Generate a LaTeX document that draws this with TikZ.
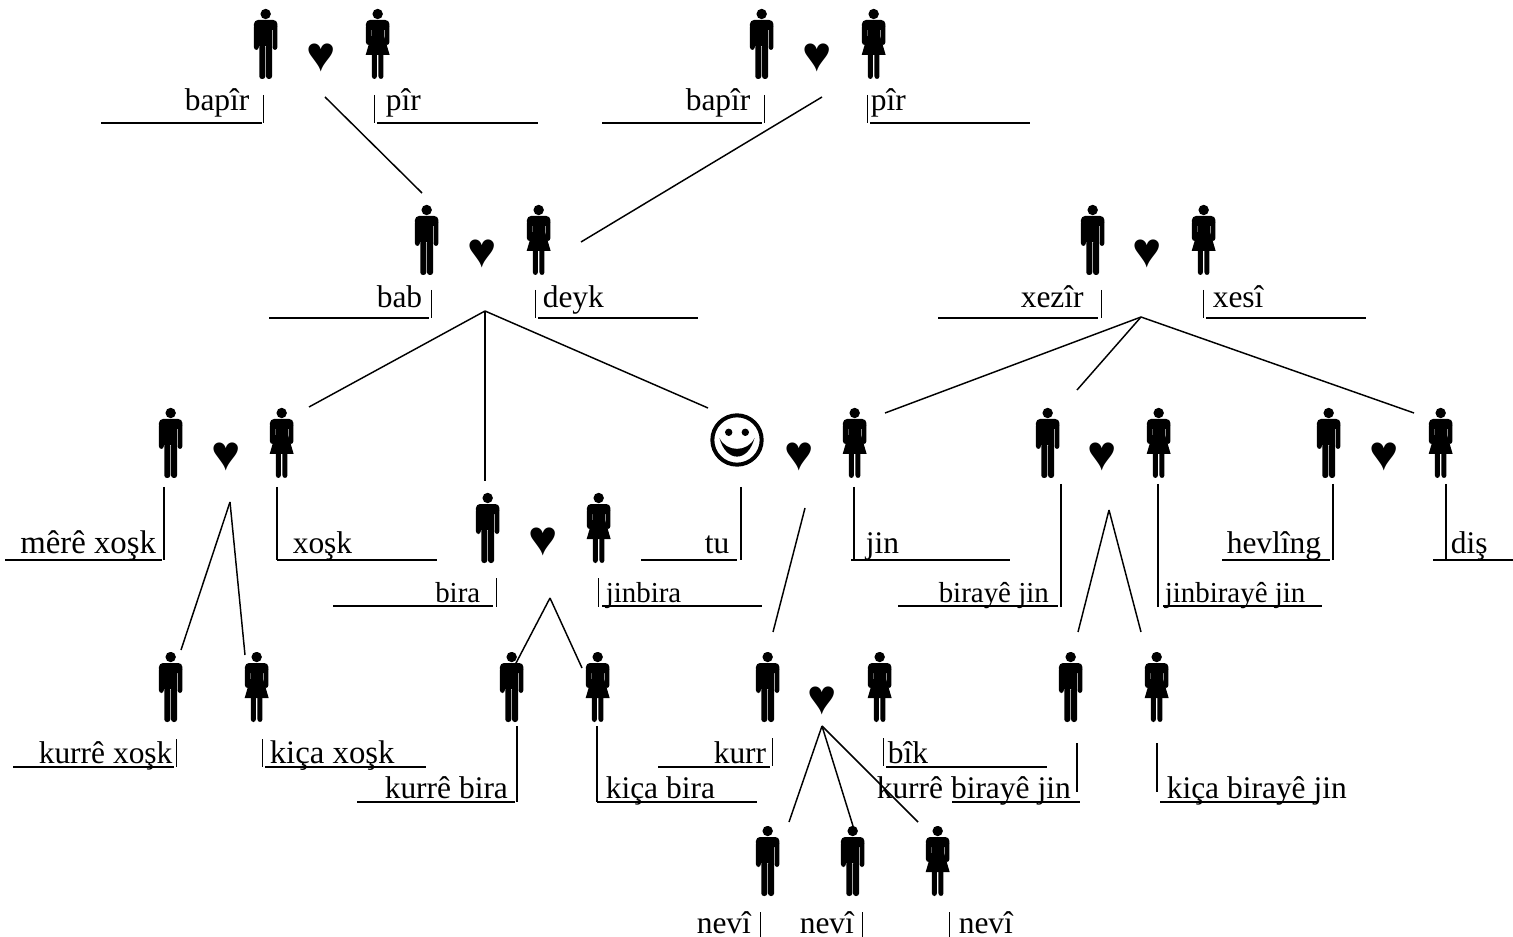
\documentclass[tikz,border=0pt]{standalone}
\usepackage{fontspec}
\setmainfont{Liberation Serif}
\newfontfamily\heartfont{Liberation Serif}
\tikzset{
  figure/.style={inner sep=0pt,xshift=0.5pt,minimum width=18pt,minimum height=52.5pt},
  man/.style={figure,path picture={
    \begin{scope}[shift={(path picture bounding box.center)}]
    \fill (0,-30) circle (5.2);
    \fill[rounded corners=3] (-11.7,-24) rectangle (11.7,-14);
    \fill[rounded corners=2] (-11.7,-20) rectangle (-6.9,6);
    \fill[rounded corners=2] (6.9,-20) rectangle (11.7,6);
    \fill (-6.4,-22) rectangle (6.4,2);
    \fill[rounded corners=2] (-6.4,0) rectangle (-0.4,35);
    \fill[rounded corners=2] (0.4,0) rectangle (6.4,35);
    \end{scope}}},
  woman/.style={figure,path picture={
    \begin{scope}[shift={(path picture bounding box.center)}]
    \fill (0,-30) circle (5.2);
    \fill[rounded corners=3] (-11.7,-24) rectangle (11.7,-14);
    \fill[rounded corners=2] (-11.7,-20) rectangle (-6.9,1);
    \fill[rounded corners=2] (6.9,-20) rectangle (11.7,1);
    \fill (-6.4,-22) -- (6.4,-22) -- (6.4,-8) -- (12,11) -- (-12,11) -- (-6.4,-8) -- cycle;
    \fill[rounded corners=2] (-5.8,5) rectangle (-0.8,35);
    \fill[rounded corners=2] (0.8,5) rectangle (5.8,35);
    \end{scope}}},
  smile/.style={circle,draw,line width=3pt,inner sep=0pt,minimum size=37pt,path picture={
    \begin{scope}[shift={(path picture bounding box.center)}]
    \fill (-8.3,-7.7) circle (3.7);
    \fill (8.3,-7.7) circle (3.7);
    \fill (-17.5,-2) .. controls (-11,12.5) and (11,12.5) .. (17.5,-2)
      .. controls (11,22.8) and (-11,22.8) .. (-17.5,-2) -- cycle;
    \end{scope}}},
  heart/.style={inner sep=0pt,yshift=-2pt,font=\heartfont\fontsize{37}{37}\selectfont},
  big/.style={inner sep=0pt,anchor=base west,font=\fontsize{23.6}{26}\selectfont},
  wide/.style={inner sep=0pt,anchor=base west,font=\fontsize{24.6}{26}\selectfont},
  small/.style={inner sep=0pt,anchor=base west,font=\fontsize{21.7}{24}\selectfont},
  link/.style={line width=1.1pt},
  rule/.style={line width=0.85pt},
  pipe/.style={line width=0.7pt}
}
\begin{document}
\begin{tikzpicture}[x=0.75pt,y=-0.75pt]
\useasboundingbox (0,0) rectangle (1513,937);

%Figures
\node[man] (bapirL) at (265,44) {};
\node[woman] (pirL) at (377,44) {};
\node[heart] (heartA) at (321,55) {♥};
\node[man] (bapirR) at (761,44) {};
\node[woman] (pirR) at (873,44) {};
\node[heart] (heartB) at (817,55) {♥};
\node[man] (bab) at (426,240) {};
\node[woman] (deyk) at (538,240) {};
\node[heart] (heartC) at (482,251) {♥};
\node[man] (xezir) at (1092,240) {};
\node[woman] (xesi) at (1203,240) {};
\node[heart] (heartD) at (1147,251) {♥};
\node[man] (merexosk) at (170,443) {};
\node[woman] (xosk) at (281,443) {};
\node[heart] (heartE) at (226,454) {♥};
\node[smile] (tu) at (737,440) {};
\node[woman] (jin) at (854,443) {};
\node[heart] (heartF) at (799,454) {♥};
\node[man] (birayejin) at (1047,443) {};
\node[woman] (jinbirayejin) at (1158,443) {};
\node[heart] (heartG) at (1102,454) {♥};
\node[man] (hevling) at (1328,443) {};
\node[woman] (dis) at (1440,443) {};
\node[heart] (heartH) at (1384,454) {♥};
\node[man] (bira) at (487,528) {};
\node[woman] (jinbira) at (598,528) {};
\node[heart] (heartI) at (543,539) {♥};
\node[man] (kurrexosk) at (170,687) {};
\node[woman] (kicaxosk) at (256,687) {};
\node[man] (kurrebira) at (511,687) {};
\node[woman] (kicabira) at (597,687) {};
\node[man] (kurr) at (767,687) {};
\node[woman] (bik) at (879,687) {};
\node[heart] (heartJ) at (822,698) {♥};
\node[man] (kurrebirayejin) at (1070,687) {};
\node[woman] (kicabirayejin) at (1156,687) {};
\node[man] (neviA) at (767,861) {};
\node[man] (neviB) at (852,861) {};
\node[woman] (neviC) at (937,861) {};

%Labels
\node[big] (tbapirL) at (184.5,111) {bapîr};
\node[big] (tpirL) at (385.5,111) {pîr};
\node[big] (tbapirR) at (685.5,111) {bapîr};
\node[big] (tpirR) at (870.5,111) {pîr};
\node[big] (tbab) at (376.5,308) {bab};
\node[big] (tdeyk) at (542.5,308) {deyk};
\node[big] (txezir) at (1020.5,308) {xezîr};
\node[big] (txesi) at (1212.5,308) {xesî};
\node[wide] (tmerexosk) at (20,553) {mêrê xoşk};
\node[big] (txosk) at (292.5,553) {xoşk};
\node[big] (ttu) at (704.5,553) {tu};
\node[big] (tjin) at (865.5,553) {jin};
\node[big] (thevling) at (1226.5,553) {hevlîng};
\node[big] (tdis) at (1450.5,553) {diş};
\node[small] (tbira) at (435,602) {bira};
\node[small] (tjinbira) at (605.5,602) {jinbira};
\node[small] (tbirayejin) at (938.5,602) {birayê jin};
\node[small] (tjinbirayejin) at (1164.5,602) {jinbirayê jin};
\node[big] (tkurrexosk) at (38.5,763) {kurrê xoşk};
\node[wide] (tkicaxosk) at (269.5,763) {kiça xoşk};
\node[big] (tkurrebira) at (384.5,798) {kurrê bira};
\node[big] (tkicabira) at (605.5,798) {kiça bira};
\node[big] (tkurr) at (713.5,763) {kurr};
\node[big] (tbik) at (887.5,763) {bîk};
\node[big] (tkurrebirayejin) at (876.5,798) {kurrê birayê jin};
\node[big] (tkicabirayejin) at (1166.5,798) {kiça birayê jin};
\node[big] (tneviA) at (696.5,933) {nevî};
\node[big] (tneviB) at (799.5,933) {nevî};
\node[big] (tneviC) at (958.5,933) {nevî};

%Name rules
\draw[rule] (101,123) -- (262,123);
\draw[pipe] (263,95) -- (263,123);
\draw[rule] (377,123) -- (538,123);
\draw[pipe] (374,95) -- (374,123);
\draw[rule] (602,123) -- (762,123);
\draw[pipe] (764,95) -- (764,123);
\draw[rule] (870,123) -- (1030,123);
\draw[pipe] (867,95) -- (867,123);
\draw[rule] (269,318) -- (429,318);
\draw[pipe] (431,290) -- (431,318);
\draw[rule] (538,318) -- (698,318);
\draw[pipe] (535,290) -- (535,318);
\draw[rule] (938,318) -- (1098,318);
\draw[pipe] (1101,290) -- (1101,318);
\draw[rule] (1206,318) -- (1366,318);
\draw[pipe] (1203,290) -- (1203,318);
\draw[rule] (5,560) -- (162,560);
\draw[link] (164,487) -- (164,560);
\draw[rule] (277,560) -- (437,560);
\draw[link] (277,487) -- (277,560);
\draw[rule] (641,560) -- (737,560);
\draw[link] (741,487) -- (741,560);
\draw[rule] (851,560) -- (1010,560);
\draw[link] (854,487) -- (854,560);
\draw[rule] (1222,560) -- (1330,560);
\draw[link] (1333,484) -- (1333,560);
\draw[rule] (1433,560) -- (1513,560);
\draw[link] (1446,484) -- (1446,560);
\draw[rule] (898,606) -- (1058,606);
\draw[link] (1061,484) -- (1061,607);
\draw[rule] (1163,606) -- (1322,606);
\draw[link] (1158,484) -- (1158,607);
\draw[rule] (333,606) -- (493,606);
\draw[pipe] (496,578) -- (496,607);
\draw[rule] (602,606) -- (762,606);
\draw[pipe] (598,578) -- (598,607);
\draw[rule] (13,767) -- (174,767);
\draw[pipe] (176,739) -- (176,767);
\draw[rule] (265,767) -- (426,767);
\draw[pipe] (262,739) -- (262,767);
\draw[rule] (658,767) -- (770,767);
\draw[pipe] (772,738) -- (772,766);
\draw[rule] (886,767) -- (1047,767);
\draw[pipe] (883,738) -- (883,766);
\draw[rule] (357,802) -- (515,802);
\draw[link] (517,726) -- (517,802);
\draw[rule] (597,802) -- (757,802);
\draw[link] (597,726) -- (597,802);
\draw[rule] (952,802) -- (1080,802);
\draw[link] (1077,743) -- (1077,792);
\draw[rule] (1160,802) -- (1318,802);
\draw[link] (1157,743) -- (1157,792);
\draw[pipe] (760,912) -- (760,937);
\draw[pipe] (862,912) -- (862,937);
\draw[pipe] (949,912) -- (949,937);

%Connector ends
\coordinate (parentsA) at (325,97);
\coordinate (parentsB) at (822,97);
\coordinate (parentsC) at (485,311);
\coordinate (parentsD) at (1141,317);
\coordinate (parentsE) at (230,502);
\coordinate (parentsF) at (550,598);
\coordinate (parentsG) at (805,508);
\coordinate (parentsH) at (1109,510);
\coordinate (parentsI) at (822,726);
\coordinate (tobab) at (422,193);
\coordinate (todeyk) at (581,242);
\coordinate (toxosk) at (309,407);
\coordinate (tobira) at (485,481);
\coordinate (totu) at (708,408);
\coordinate (tojin) at (885,413);
\coordinate (tobirayejin) at (1077,390);
\coordinate (todis) at (1414,413);
\coordinate (tokurrexosk) at (181,650);
\coordinate (tokicaxosk) at (245,655);
\coordinate (tokurrebira) at (515,665);
\coordinate (tokicabira) at (582,668);
\coordinate (tokurr) at (773,632);
\coordinate (tokurrebirayejin) at (1078,632);
\coordinate (tokicabirayejin) at (1141,632);
\coordinate (toneviA) at (789,822);
\coordinate (toneviB) at (853,826);
\coordinate (toneviC) at (918,822);

%Straight Lines
\draw[link] (parentsA) -- (tobab);
\draw[link] (parentsB) -- (todeyk);
\draw[link] (parentsC) -- (toxosk);
\draw[link] (parentsC) -- (tobira);
\draw[link] (parentsC) -- (totu);
\draw[link] (parentsD) -- (tojin);
\draw[link] (parentsD) -- (tobirayejin);
\draw[link] (parentsD) -- (todis);
\draw[link] (parentsE) -- (tokurrexosk);
\draw[link] (parentsE) -- (tokicaxosk);
\draw[link] (parentsF) -- (tokurrebira);
\draw[link] (parentsF) -- (tokicabira);
\draw[link] (parentsG) -- (tokurr);
\draw[link] (parentsH) -- (tokurrebirayejin);
\draw[link] (parentsH) -- (tokicabirayejin);
\draw[link] (parentsI) -- (toneviA);
\draw[link] (parentsI) -- (toneviB);
\draw[link] (parentsI) -- (toneviC);
\end{tikzpicture}
\end{document}
